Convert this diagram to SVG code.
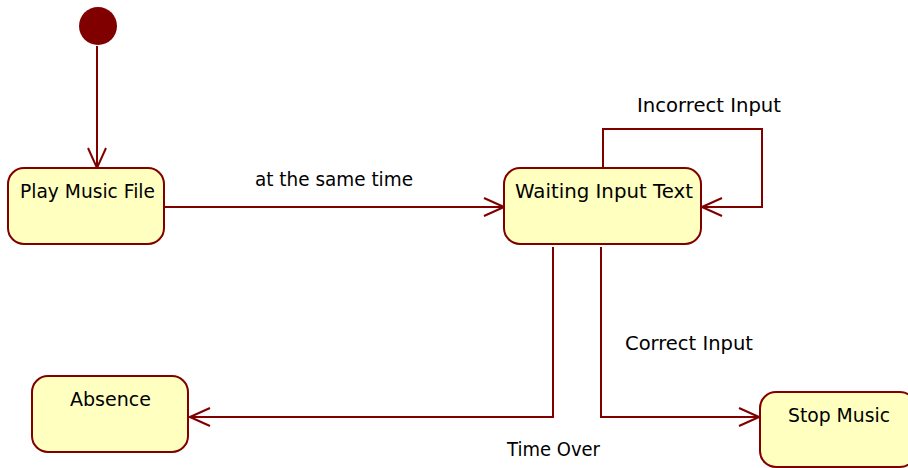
<svg xmlns="http://www.w3.org/2000/svg" width="908" height="468" viewBox="0 0 908 468">
<style>
.state{fill:#FFFFC0;stroke:#800000;stroke-width:2}
.edge{fill:none;stroke:#800000;stroke-width:2}
text{font-family:"DejaVu Sans","Liberation Sans",sans-serif;font-size:20px;fill:#000}
</style>
<defs>
<marker id="arr" viewBox="0 0 22 22" refX="21" refY="11" markerWidth="22" markerHeight="22" markerUnits="userSpaceOnUse" orient="auto">
<path d="M1,2 L21,11 L1,20" fill="none" stroke="#800000" stroke-width="2"/>
</marker>
</defs>
<rect width="908" height="468" fill="#fff"/>
<g id="connectors">
<path class="edge" d="M97,46 V168" marker-end="url(#arr)"/>
<path class="edge" d="M165,207 H504" marker-end="url(#arr)"/>
<path class="edge" d="M603,167 V129 H762 V207 H702" marker-end="url(#arr)"/>
<path class="edge" d="M553,247 V417 H190" marker-end="url(#arr)"/>
<path class="edge" d="M601,247 V417 H759" marker-end="url(#arr)"/>
<text x="255" y="186" textLength="158" lengthAdjust="spacingAndGlyphs">at the same time</text>
<text x="637" y="112" textLength="144" lengthAdjust="spacingAndGlyphs">Incorrect Input</text>
<text x="625" y="350" textLength="128" lengthAdjust="spacingAndGlyphs">Correct Input</text>
<text x="507" y="456" textLength="93" lengthAdjust="spacingAndGlyphs">Time Over</text>
</g>
<g id="initial">
<circle cx="98" cy="26" r="19" fill="#800000"/>
</g>
<g id="play">
<rect class="state" x="8" y="168" width="156" height="76" rx="16"/>
<text x="20" y="198" textLength="135" lengthAdjust="spacingAndGlyphs">Play Music File</text>
</g>
<g id="waiting">
<rect class="state" x="504" y="168" width="197" height="76" rx="16"/>
<text x="515" y="198" textLength="178" lengthAdjust="spacingAndGlyphs">Waiting Input Text</text>
</g>
<g id="absence">
<rect class="state" x="32" y="376" width="156" height="76" rx="16"/>
<text x="70" y="406" textLength="81" lengthAdjust="spacingAndGlyphs">Absence</text>
</g>
<g id="stop">
<rect class="state" x="760" y="392" width="156" height="75" rx="16"/>
<text x="788" y="422" textLength="102" lengthAdjust="spacingAndGlyphs">Stop Music</text>
</g>
</svg>
